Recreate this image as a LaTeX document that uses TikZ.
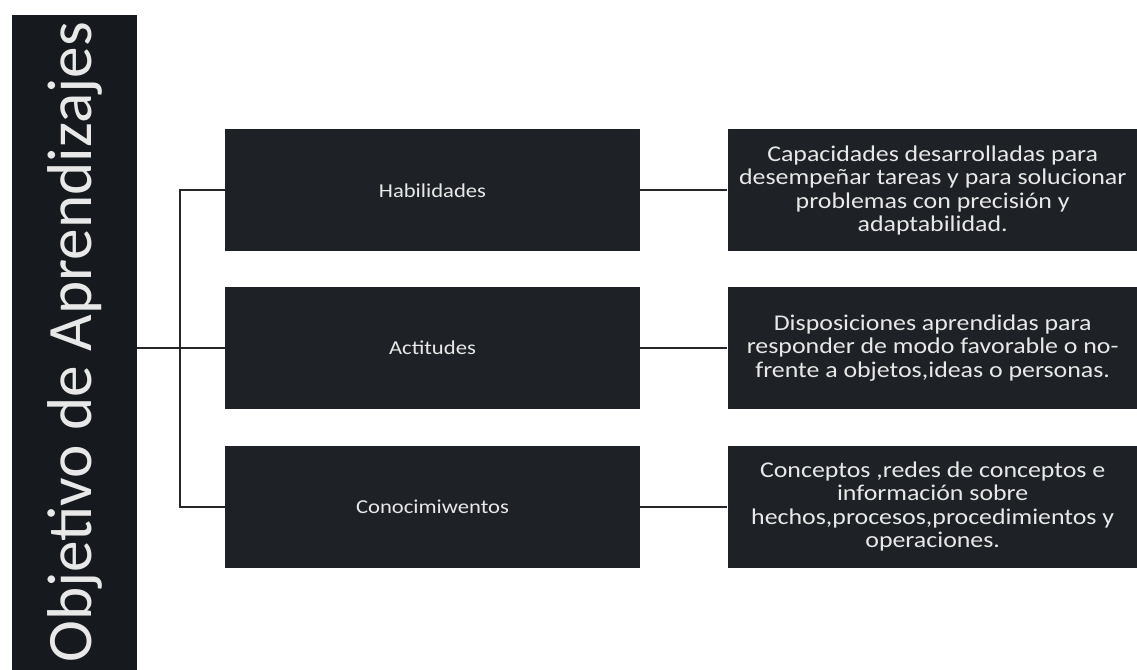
\documentclass[tikz,border=0pt]{standalone}
\usepackage{fontspec}
\setmainfont{Carlito}[FakeStretch=1.15]
\newfontfamily\barfont{Carlito}
\usepackage{tikz}
\usetikzlibrary{positioning}
\definecolor{boxdark}{RGB}{30,34,39}
\definecolor{bardark}{RGB}{22,25,29}
\definecolor{boxtext}{RGB}{232,232,232}
\tikzstyle{titlebar} = [
    rectangle,
    minimum width=16.375cm, minimum height=3.125cm,
    rotate=90, inner sep=0pt,
    text centered,
    fill=bardark, text=boxtext,
    font=\barfont\fontsize{45}{45}\selectfont]
\tikzstyle{topic} = [
    rectangle,
    minimum width=10.375cm, minimum height=3.05cm,
    text centered,
    fill=boxdark, text=boxtext,
    font=\fontsize{14}{16}\selectfont]
\tikzstyle{detail} = [
    rectangle,
    minimum width=10.25cm, minimum height=3.05cm, inner sep=1pt,
    align=center,
    fill=boxdark, text=boxtext,
    font=\fontsize{16}{16.7}\selectfont]
\tikzstyle{line} = [line width=1.3pt, black!85]

\begin{document}
\begin{tikzpicture}[x=0.025cm, y=-0.025cm]
    \useasboundingbox (0,0) rectangle (1137,670);

    \node (title) [titlebar] at (74.5,342.5) {Objetivo de Aprendizajes};

    \node (act) [topic] at (432.5,348) {Actitudes};
    \node (hab) [topic, above=0.875cm of act] {Habilidades};
    \node (con) [topic, below=0.9cm of act] {Conocimiwentos};

    \node (hab_desc) [detail, right=2.175cm of hab] {Capacidades desarrolladas para\\desempeñar tareas y para solucionar\\problemas con precisión y\\adaptabilidad.};
    \node (act_desc) [detail, right=2.175cm of act] {Disposiciones aprendidas para\\responder de modo favorable o no-\\frente a objetos,ideas o personas.};
    \node (con_desc) [detail, right=2.175cm of con] {Conceptos ,redes de conceptos e\\información sobre\\hechos,procesos,procedimientos y\\operaciones.};

    \draw [line] (act.west -| title.south) -- (act.west);
    \draw [line] (hab.west) -- ++(-45,0) |- (con.west);

    \draw [line] (hab) -- (hab_desc);
    \draw [line] (act) -- (act_desc);
    \draw [line] (con) -- (con_desc);
\end{tikzpicture}
\end{document}
